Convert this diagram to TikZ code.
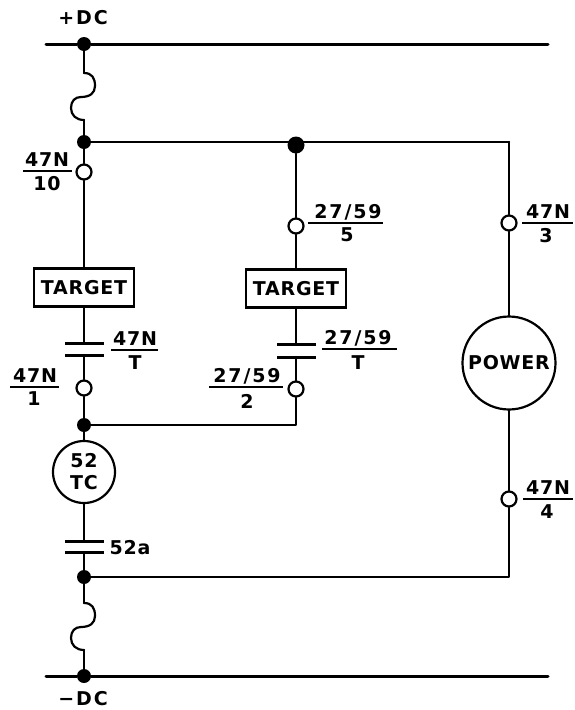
\documentclass[tikz,border=0pt]{standalone}
\usepackage{fontspec}
\setmainfont{DejaVu Sans}
\newfontfamily\tagfont[LetterSpace=4]{DejaVu Sans}
\newfontfamily\widefont[LetterSpace=10]{DejaVu Sans}
\usepackage{tikz}
\usetikzlibrary{positioning}
\tikzset{
wire/.style={line width=2.2pt,line cap=round,line join=round},
bus/.style={line width=3pt,line cap=round},
dot/.style={circle,fill=black,inner sep=0pt,minimum size=14pt},
contact/.style={circle,draw,fill=white,line width=2.2pt,inner sep=0pt,minimum size=15pt},
coil/.style={circle,draw,line width=2.2pt,inner sep=0pt,align=center,font=\tagfont\bfseries\fontsize{19}{22}\selectfont},
targetbox/.style={rectangle,draw,line width=2.4pt,inner sep=0pt,minimum width=100pt,minimum height=38pt,font=\tagfont\bfseries\fontsize{19}{19}\selectfont},
plate/.style={rectangle,fill=black,inner sep=0pt,minimum height=3pt,minimum width=39pt},
tagrule/.style={rectangle,fill=black,inner sep=0pt,minimum height=2.4pt},
tag/.style={inner sep=0pt,font=\tagfont\bfseries\fontsize{19}{19}\selectfont},
widetag/.style={inner sep=0pt,font=\widefont\bfseries\fontsize{19}{19}\selectfont},
fuse/.pic={
\coordinate (-in) at (0,0);
\coordinate (-out) at (0,-47);
\draw [wire] (0,0) .. controls (8,0) and (11,-5) .. (11,-13) .. controls (11,-20) and (6,-24) .. (-3,-24) .. controls (-9,-24) and (-13,-28) .. (-13,-35) .. controls (-13,-42) and (-8,-47) .. (0,-47);
}}
\begin{document}
\begin{tikzpicture}[x=1pt,y=1pt,yscale=-1,xscale=1]
\useasboundingbox (0,0) rectangle (574,710);
% Junctions
\node [dot] (dctop) at (84,44) {};
\node [dot] (jtop) at (84,142) {};
\node [dot,minimum size=17pt] (jmid) at (296,145) {};
\node [dot] (jcoil) at (84,425) {};
\node [dot] (jlow) at (84,577) {};
\node [dot] (dcbot) at (84,676) {};
\coordinate (plusl) at (46,44);
\coordinate (plusr) at (548,44);
\coordinate (minusl) at (46,676);
\coordinate (minusr) at (548,676);
\coordinate (cnrtop) at (509,142);
\coordinate (cnrlow) at (509,577);
\coordinate (cnrmid) at (296,425);
% Open contacts
\node [contact] (c10) at (84,172) {};
\node [contact] (c1) at (84,388) {};
\node [contact] (c5) at (296,226) {};
\node [contact] (c2) at (296,389) {};
\node [contact] (c3) at (509,223) {};
\node [contact] (c4) at (509,499) {};
% Boxes and coils
\node [targetbox] (tgtl) at (84,287.5) {TARGET};
\node [targetbox] (tgtr) at (296,288.5) {TARGET};
\node [coil,minimum size=62pt] (tc) at (84,472) {52\\TC};
\node [coil,minimum size=93pt] (power) at (509,363) {POWER};
% Contact plates
\node [plate] (pla) at (84,343) {};
\node [plate] (plb) at (84,355) {};
\node [plate] (pra) at (296,344) {};
\node [plate] (prb) at (296,357) {};
\node [plate] (pca) at (84,541) {};
\node [plate] (pcb) at (84,552) {};
% Fuses
\pic (fuseup) at (84,73) {fuse};
\pic (fusedn) at (84,603) {fuse};
% Buses
\draw [bus] (plusl) -- (dctop) -- (plusr);
\draw [bus] (minusl) -- (dcbot) -- (minusr);
% Left branch
\draw [wire] (dctop) -- (fuseup-in);
\draw [wire] (fuseup-out) -- (jtop);
\draw [wire] (jtop) -- (c10);
\draw [wire] (c10) -- (tgtl);
\draw [wire] (tgtl) -- (pla.center);
\draw [wire] (plb.center) -- (c1);
\draw [wire] (c1) -- (jcoil);
\draw [wire] (jcoil) -- (tc);
\draw [wire] (tc) -- (pca.center);
\draw [wire] (pcb.center) -- (jlow);
\draw [wire] (jlow) -- (fusedn-in);
\draw [wire] (fusedn-out) -- (dcbot);
% Middle branch
\draw [wire] (jtop) -- (cnrtop);
\draw [wire] (jmid) -- (c5);
\draw [wire] (c5) -- (tgtr);
\draw [wire] (tgtr) -- (pra.center);
\draw [wire] (prb.center) -- (c2);
\draw [wire] (c2) -- (cnrmid) -- (jcoil);
% Right branch
\draw [wire] (cnrtop) -- (c3);
\draw [wire] (c3) -- (power);
\draw [wire] (power) -- (c4);
\draw [wire] (c4) -- (cnrlow) -- (jlow);
% Text Node
\node [widetag] (plus) at (83,18) {+DC};
\node [widetag] (minus) at (83,699) {−DC};
\node [tag] (n52a) at (130,548) {52a};
% Tags
\node [tagrule,minimum width=49pt] (r10) at (47,171) {};
\node [tag] (t10a) at (47,160) {47N};
\node [tag] (t10b) at (47,184) {10};
\node [tagrule,minimum width=47pt] (rt) at (134.5,350) {};
\node [tag] (tta) at (135,339) {47N};
\node [tag] (ttb) at (135,363) {T};
\node [tagrule,minimum width=49pt] (r1) at (34,387) {};
\node [tag] (t1a) at (35,376) {47N};
\node [tag] (t1b) at (34,399) {1};
\node [tagrule,minimum width=75pt] (rrt) at (359.5,349) {};
\node [widetag] (rta) at (358,338) {27/59};
\node [tag] (rtb) at (358,363) {T};
\node [tagrule,minimum width=74pt] (r2) at (246,387) {};
\node [widetag] (t2a) at (247,376) {27/59};
\node [tag] (t2b) at (247,401) {2};
\node [tagrule,minimum width=75pt] (r5) at (345.5,223) {};
\node [widetag] (t5a) at (348,212) {27/59};
\node [tag] (t5b) at (347,235) {5};
\node [tagrule,minimum width=51pt] (r3) at (547.5,223) {};
\node [tag] (t3a) at (548,212) {47N};
\node [tag] (t3b) at (546,236) {3};
\node [tagrule,minimum width=50pt] (r4) at (548,499) {};
\node [tag] (t4a) at (548,488) {47N};
\node [tag] (t4b) at (547,512) {4};
\end{tikzpicture}
\end{document}
